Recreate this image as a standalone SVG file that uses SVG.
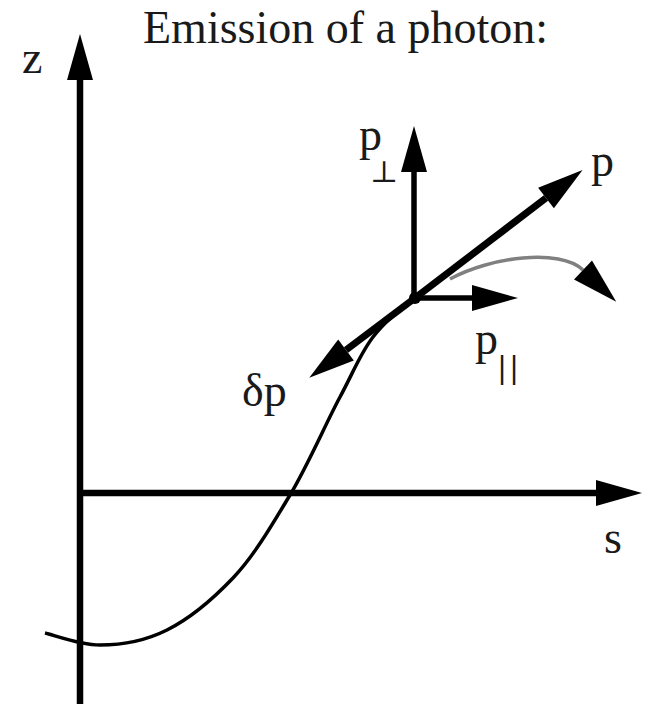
<svg xmlns="http://www.w3.org/2000/svg" width="648" height="704" viewBox="0 0 648 704">
  <style>
    .lbl { font-family: 'Liberation Serif', 'DejaVu Serif', serif; font-size: 46px; fill: #1a1a1a; }
    .sub { font-family: 'DejaVu Serif', 'Liberation Serif', serif; fill: #1a1a1a; }
    .axis { stroke: #000; stroke-width: 6.5; fill: none; }
    .vec { stroke: #000; fill: none; }
    .curve { stroke: #000; stroke-width: 3.5; fill: none; }
    .gray { stroke: #808080; stroke-width: 3.5; fill: none; }
  </style>
  <defs>
    <marker id="ah" markerUnits="userSpaceOnUse" markerWidth="50" markerHeight="30" refX="0" refY="13" orient="auto" overflow="visible">
      <path d="M0,0 L46,13 L0,26 Z" fill="#000"/>
    </marker>
  </defs>

  <text id="title" class="lbl" x="143" y="43" font-family="Liberation Serif, serif">Emission of a photon:</text>

  <g id="axes">
    <line id="z-axis" class="axis" x1="80" y1="704" x2="80" y2="80" marker-end="url(#ah)"/>
    <line id="s-axis" class="axis" x1="77" y1="493" x2="596" y2="493" marker-end="url(#ah)"/>
    <text id="z-label" class="lbl" x="22" y="73" font-family="Liberation Serif, serif">z</text>
    <text id="s-label" class="lbl" x="604" y="553" font-family="Liberation Serif, serif">s</text>
  </g>

  <g id="trajectory">
    <path class="curve" d="M45,633 C54,635 80,645 100,645 C120,645 145,641 167,630 C189,619 212,600 233,578 C254,556 272,525 290,495 C308,465 326,423 340,397 C354,371 360,354 373,337 C385,321 400,309 415,298"/>
  </g>

  <g id="connectors">
    <line id="vec-p" class="vec" stroke-width="7" x1="415" y1="298" x2="546" y2="198" marker-end="url(#ah)"/>
    <line id="vec-dp" class="vec" stroke-width="7" x1="415" y1="298" x2="346" y2="350" marker-end="url(#ah)"/>
    <line id="vec-pperp" class="vec" stroke-width="5.5" x1="414" y1="298" x2="414" y2="172" marker-end="url(#ah)"/>
    <line id="vec-ppar" class="vec" stroke-width="5.5" x1="413" y1="298" x2="472" y2="298" marker-end="url(#ah)"/>
    <path id="photon" class="gray" d="M450,279 C490,257 560,248 583,270" marker-end="url(#ah)"/>
    <circle cx="415" cy="298" r="6" fill="#000"/>
  </g>

  <g id="labels">
    <text id="lbl-p" class="lbl" x="591" y="176" font-family="Liberation Serif, serif">p</text>
    <text id="lbl-pperp" class="lbl" x="359" y="150" font-family="Liberation Serif, serif">p</text>
    <text id="lbl-perp-sub" class="sub" x="370" y="182" font-size="30" font-family="DejaVu Serif, serif">⊥</text>
    <text id="lbl-ppar" class="lbl" x="475" y="354" font-family="Liberation Serif, serif">p</text>
    <text id="lbl-par-sub" class="sub" x="497" y="378" font-size="30" letter-spacing="2" font-family="Liberation Serif, serif">||</text>
    <text id="lbl-dp" class="lbl" x="242" y="406" font-family="Liberation Serif, serif">δp</text>
  </g>
</svg>
